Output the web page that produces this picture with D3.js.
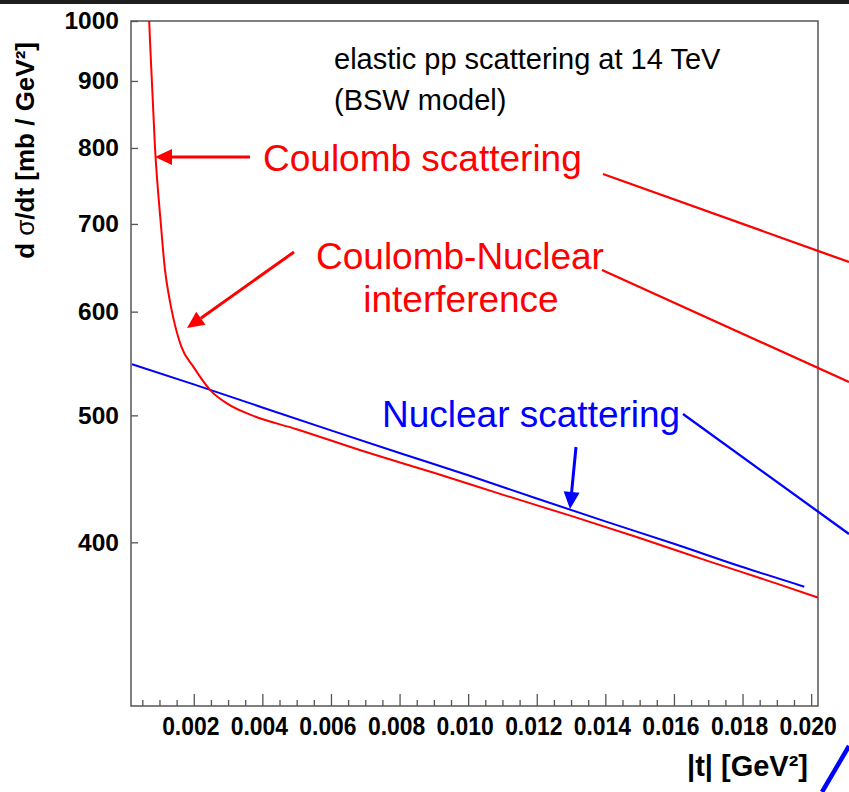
<!DOCTYPE html>
<html>
<head>
<meta charset="utf-8">
<script src="https://cdn.jsdelivr.net/npm/d3@7"></script>
<style>
body { margin: 0; background: #fff; }
svg { display: block; font-family: "Liberation Sans", Arial, Helvetica, sans-serif; }
</style>
</head>
<body>
<div id="chart"></div>
<script>

// |t| [GeV^2] and dsigma/dt [mb/GeV^2]
var nuclearT  = [0.0002, 0.002, 0.004, 0.006, 0.008, 0.010, 0.012, 0.014, 0.016, 0.018, 0.0198];
var nuclearXs = [547, 528, 507, 487, 468, 450, 432, 415, 399, 383, 370];

var totalT  = [0.0006, 0.0007, 0.00087, 0.00104, 0.00116, 0.0013, 0.0014, 0.00164, 0.002, 0.0025,
               0.003, 0.0037, 0.005, 0.007, 0.009, 0.011, 0.013, 0.015, 0.017, 0.019, 0.0202];
var totalXs = [1150, 1000, 800, 700, 646, 612, 594, 564, 544, 522,
               510, 500, 488, 469, 452, 435, 419, 403, 387, 372, 363];

var yTicks = [400, 500, 600, 700, 800, 900, 1000];
var xTicks = [0.002, 0.004, 0.006, 0.008, 0.010, 0.012, 0.014, 0.016, 0.018, 0.020];
var xMinorTicks = [0.0005, 0.001, 0.0015, 0.0025, 0.003, 0.0035, 0.0045, 0.005, 0.0055,
                   0.0065, 0.007, 0.0075, 0.0085, 0.009, 0.0095, 0.0105, 0.011, 0.0115,
                   0.0125, 0.013, 0.0135, 0.0145, 0.015, 0.0155, 0.0165, 0.017, 0.0175,
                   0.0185, 0.019, 0.0195];

var titleLines = ["elastic pp scattering at 14 TeV", "(BSW model)"];

var red = "#ff0000", blue = "#0000ff", frameCol = "#555";

var margin = { top: 21, right: 31, bottom: 86, left: 131 };
var W = 849, H = 792;
var width = W - margin.left - margin.right,
    height = H - margin.top - margin.bottom;

var svg = d3.select("#chart").append("svg")
    .attr("width", W)
    .attr("height", H);

// dark strip along the top edge
svg.append("rect")
    .attr("x", 0).attr("y", 0)
    .attr("width", W).attr("height", 4)
    .attr("fill", "#1e1e1e");

var g = svg.append("g")
    .attr("transform", "translate(" + margin.left + "," + margin.top + ")");

var x = d3.scaleLinear()
    .domain([0.00017, 0.0202])
    .range([0, width]);

var y = d3.scaleLog()
    .domain([300, 1000])
    .range([height, 0]);

g.append("clipPath").attr("id", "plotclip")
    .append("rect")
    .attr("width", width).attr("height", height);

// axes
var xMinor = d3.axisBottom(x).tickValues(xMinorTicks).tickSize(-6).tickFormat("");
var xAxis = d3.axisBottom(x).tickValues(xTicks).tickSize(-12).tickPadding(11)
    .tickFormat(d3.format(".3f"));
var yAxis = d3.axisLeft(y).tickValues(yTicks).tickSize(-7).tickPadding(12)
    .tickFormat(d3.format("d"));

g.append("g")
    .attr("transform", "translate(0," + height + ")")
    .call(xMinor);

var gx = g.append("g")
    .attr("class", "x-axis")
    .attr("transform", "translate(0," + height + ")")
    .call(xAxis);

var gy = g.append("g")
    .attr("class", "y-axis")
    .call(yAxis);

g.selectAll(".domain").remove();
g.selectAll(".tick line").attr("stroke", frameCol).attr("stroke-width", 1.3);

gx.selectAll("text")
    .attr("font-size", 26)
    .attr("font-weight", "bold")
    .attr("fill", "#000")
    .attr("font-family", "'Liberation Sans', Arial, sans-serif")
    .attr("dx", -4)
    .attr("transform", "scale(0.88,1)");

gy.selectAll("text")
    .attr("font-size", 24.5)
    .attr("font-weight", "bold")
    .attr("fill", "#000")
    .attr("font-family", "'Liberation Sans', Arial, sans-serif");

// frame
g.append("rect")
    .attr("width", width).attr("height", height)
    .attr("fill", "none")
    .attr("stroke", frameCol)
    .attr("stroke-width", 1.5);

// curves
var line = d3.line()
    .x(function(d) { return x(d[0]); })
    .y(function(d) { return y(d[1]); })
    .curve(d3.curveMonotoneX);

var plot = g.append("g").attr("clip-path", "url(#plotclip)");

plot.append("path")
    .datum(d3.zip(nuclearT, nuclearXs))
    .attr("d", line)
    .attr("fill", "none")
    .attr("stroke", blue)
    .attr("stroke-width", 2);

plot.append("path")
    .datum(d3.zip(totalT, totalXs))
    .attr("d", line)
    .attr("fill", "none")
    .attr("stroke", red)
    .attr("stroke-width", 2);

// axis titles
svg.append("text")
    .attr("x", 808).attr("y", 776)
    .attr("text-anchor", "end")
    .attr("font-size", 29)
    .attr("font-weight", "bold")
    .text("|t| [GeV²]");

var yt = svg.append("text")
    .attr("transform", "translate(34,42) rotate(-90)")
    .attr("text-anchor", "end")
    .attr("font-size", 26)
    .attr("font-weight", "bold");
yt.append("tspan").text("d ");
yt.append("tspan").attr("font-weight", "normal").text("σ");
yt.append("tspan").text("/dt [mb / GeV²]");

// title block
svg.selectAll(".title")
    .data(titleLines)
    .enter().append("text")
    .attr("class", "title")
    .attr("x", 334)
    .attr("y", function(d, i) { return 69 + i * 41; })
    .attr("font-size", 29)
    .attr("fill", "#000")
    .text(function(d) { return d; });

// annotations (page pixels)
var labels = [
    { text: "Coulomb scattering", x: 263, y: 171, anchor: "start", color: red },
    { text: "Coulomb-Nuclear", x: 316, y: 269, anchor: "start", color: red },
    { text: "interference", x: 461, y: 312, anchor: "middle", color: red },
    { text: "Nuclear scattering", x: 382, y: 427, anchor: "start", color: blue }
];

var arrows = [
    { x1: 250, y1: 157, x2: 155, y2: 157, color: red },
    { x1: 294, y1: 252, x2: 187, y2: 328, color: red },
    { x1: 576, y1: 447, x2: 570, y2: 509, color: blue }
];

var leaders = [
    { x1: 603, y1: 174, x2: 849, y2: 262, color: red, w: 2.3 },
    { x1: 602, y1: 270, x2: 849, y2: 382, color: red, w: 2.3 },
    { x1: 683, y1: 414, x2: 849, y2: 534, color: blue, w: 2.3 },
    { x1: 849, y1: 746, x2: 822, y2: 792, color: blue, w: 4.5 }
];

svg.selectAll(".lab")
    .data(labels)
    .enter().append("text")
    .attr("class", "lab")
    .attr("x", function(d) { return d.x; })
    .attr("y", function(d) { return d.y; })
    .attr("text-anchor", function(d) { return d.anchor; })
    .attr("font-size", 37)
    .attr("fill", function(d) { return d.color; })
    .text(function(d) { return d.text; });

svg.selectAll(".leader")
    .data(leaders)
    .enter().append("line")
    .attr("class", "leader")
    .attr("x1", function(d) { return d.x1; })
    .attr("y1", function(d) { return d.y1; })
    .attr("x2", function(d) { return d.x2; })
    .attr("y2", function(d) { return d.y2; })
    .attr("stroke", function(d) { return d.color; })
    .attr("stroke-width", function(d) { return d.w; });

var headLen = 17, headHalf = 8;
arrows.forEach(function(a) {
    var dx = a.x2 - a.x1, dy = a.y2 - a.y1;
    var len = Math.sqrt(dx * dx + dy * dy);
    var ux = dx / len, uy = dy / len;
    var bx = a.x2 - ux * headLen, by = a.y2 - uy * headLen;

    svg.append("line")
        .attr("x1", a.x1).attr("y1", a.y1)
        .attr("x2", bx).attr("y2", by)
        .attr("stroke", a.color)
        .attr("stroke-width", 3);

    svg.append("path")
        .attr("d", "M" + a.x2 + "," + a.y2 +
            "L" + (bx - uy * headHalf) + "," + (by + ux * headHalf) +
            "L" + (bx + uy * headHalf) + "," + (by - ux * headHalf) + "Z")
        .attr("fill", a.color);
});

</script>
</body>
</html>
